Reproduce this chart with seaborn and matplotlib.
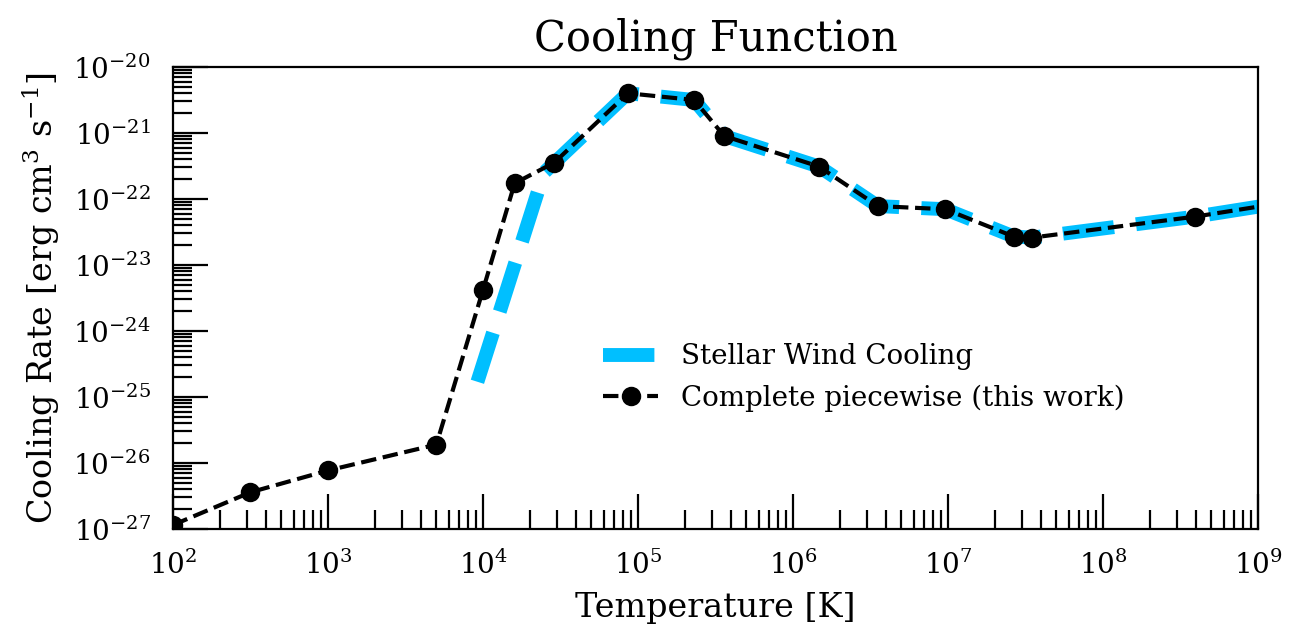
import numpy as np
import pandas as pd
import matplotlib
matplotlib.use("Agg")
import matplotlib.pyplot as plt
import matplotlib.ticker as mticker
import seaborn as sns

# ---- data ----
temp_piecewise = [1.0e2, 3.16e2, 1.0e3, 5.0e3, 1.0e4, 1.6e4, 2.88e4, 8.6e4, 2.3e5,
                  3.6e5, 1.47e6, 3.53e6, 9.6e6, 2.65e7, 3.5e7, 3.93e8, 1.0e10]
rate_piecewise = [1.15e-27, 3.6e-27, 7.7e-27, 1.9e-26, 4.2e-24, 1.73e-22, 3.55e-22,
                  4.0e-21, 3.16e-21, 9.0e-22, 3.1e-22, 7.8e-23, 7.0e-23, 2.7e-23,
                  2.6e-23, 5.4e-23, 1.8e-22]
has_marker = [True] * 16 + [False]

temp_wind = [9.2e3, 2.47e4, 8.6e4, 2.3e5, 3.6e5, 1.47e6, 3.53e6, 9.6e6, 2.65e7,
             3.5e7, 3.93e8, 1.0e10]
rate_wind = [1.7e-25, 2.5e-22, 4.0e-21, 3.16e-21, 9.0e-22, 3.1e-22, 7.8e-23,
             7.0e-23, 2.7e-23, 2.6e-23, 5.4e-23, 1.8e-22]

label_wind = "Stellar Wind Cooling"
label_piecewise = "Complete piecewise (this work)"
title = "Cooling Function"
xlabel = "Temperature [K]"
ylabel = r"Cooling Rate [erg cm$^3$ s$^{-1}$]"

sns.set_style("white")
plt.rcParams["font.family"] = ["DejaVu Serif"]
plt.rcParams["mathtext.fontset"] = "dejavuserif"
for key in ["text.color", "axes.labelcolor", "xtick.color", "ytick.color",
            "axes.edgecolor", "xtick.labelcolor", "ytick.labelcolor"]:
    plt.rcParams[key] = "black"

fig = plt.figure(figsize=(6.51, 3.22), dpi=200)
ax = fig.add_axes([0.1329, 0.1786, 0.9662 - 0.1329, 0.896 - 0.1786])

df_w = pd.DataFrame({"T": temp_wind, "L": rate_wind})
df_p = pd.DataFrame({"T": temp_piecewise, "L": rate_piecewise})

sns.lineplot(data=df_w, x="T", y="L", ax=ax, color="#00BFFF", linewidth=5,
             linestyle="--", label=label_wind, sort=False, estimator=None, zorder=2)
sns.lineplot(data=df_p, x="T", y="L", ax=ax, color="black", linewidth=1.5,
             linestyle="--", marker="o", markersize=6, markeredgecolor="black",
             markeredgewidth=1.0, markerfacecolor="black", markevery=has_marker,
             label=label_piecewise, sort=False, estimator=None, zorder=3)

ax.set_xscale("log")
ax.set_yscale("log")
ax.set_xlim(1e2, 1e9)
ax.set_ylim(1e-27, 1e-20)

ax.xaxis.set_major_locator(mticker.LogLocator(base=10, numticks=100))
ax.xaxis.set_minor_locator(mticker.LogLocator(base=10, subs=np.arange(2, 10), numticks=100))
ax.yaxis.set_major_locator(mticker.LogLocator(base=10, numticks=100))
ax.yaxis.set_minor_locator(mticker.LogLocator(base=10, subs=np.arange(2, 10), numticks=100))
ax.xaxis.set_minor_formatter(mticker.NullFormatter())
ax.yaxis.set_minor_formatter(mticker.NullFormatter())

ax.tick_params(which="both", direction="in", top=False, right=False,
               bottom=True, left=True, color="black", labelcolor="black",
               labelsize=10, pad=8)
ax.tick_params(which="major", length=12.5, width=0.8)
ax.tick_params(which="minor", length=6.8, width=0.8)

for s in ax.spines.values():
    s.set_color("black")
    s.set_linewidth(0.8)

ax.set_title(title, fontsize=15, color="black")
ax.set_xlabel(xlabel, fontsize=12, color="black")
ax.set_ylabel(ylabel, fontsize=12, color="black")

leg = ax.legend(loc="upper left", bbox_to_anchor=(0.373, 0.456), frameon=False, fontsize=10)
for t in leg.get_texts():
    t.set_color("black")

fig.savefig("out.png", dpi=200)
